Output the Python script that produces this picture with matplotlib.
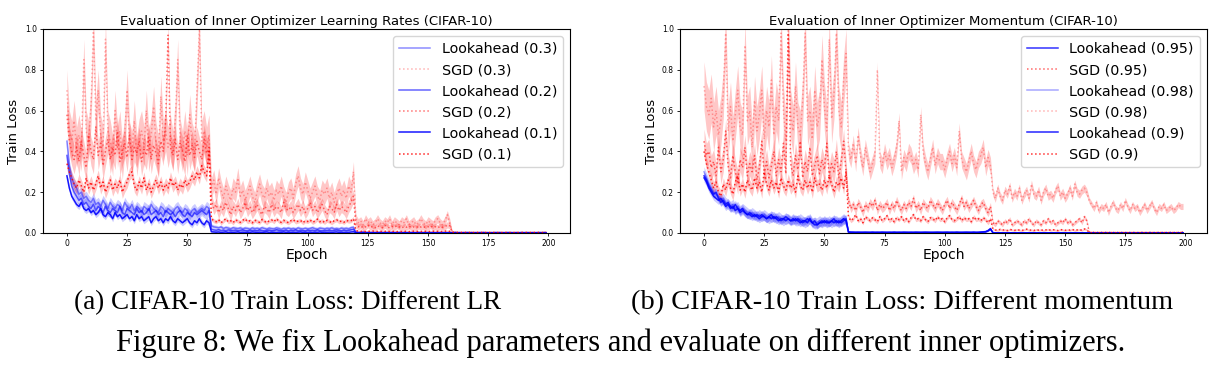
import matplotlib
matplotlib.use("Agg")
import matplotlib.pyplot as plt
import numpy as np

# ---------------------------------------------------------------
# values (one value per epoch, 0..199)
# ---------------------------------------------------------------

# (a) inner optimizer learning rates
lr_la_03 = [
    0.45, 0.33, 0.27, 0.24, 0.22, 0.19, 0.20, 0.17, 0.18, 0.16,
    0.15, 0.17, 0.14, 0.15, 0.13, 0.16, 0.14, 0.12, 0.15, 0.13,
    0.12, 0.14, 0.13, 0.11, 0.15, 0.13, 0.12, 0.14, 0.11, 0.13,
    0.12, 0.10, 0.13, 0.12, 0.11, 0.14, 0.12, 0.11, 0.10, 0.13,
    0.12, 0.10, 0.12, 0.11, 0.10, 0.12, 0.13, 0.11, 0.10, 0.12,
    0.11, 0.09, 0.11, 0.12, 0.10, 0.11, 0.12, 0.11, 0.13, 0.12,
    0.035, 0.030, 0.028, 0.025, 0.030, 0.022, 0.027, 0.024, 0.020, 0.026,
    0.023, 0.021, 0.025, 0.020, 0.024, 0.022, 0.019, 0.025, 0.021, 0.023,
    0.020, 0.026, 0.022, 0.019, 0.024, 0.021, 0.020, 0.025, 0.022, 0.018,
    0.023, 0.021, 0.024, 0.020, 0.022, 0.019, 0.025, 0.021, 0.020, 0.023,
    0.020, 0.022, 0.026, 0.021, 0.019, 0.024, 0.022, 0.020, 0.023, 0.021,
    0.025, 0.020, 0.022, 0.019, 0.024, 0.021, 0.023, 0.020, 0.026, 0.028,
    0.004, 0.003, 0.003, 0.004, 0.003, 0.002, 0.003, 0.003, 0.002, 0.003,
    0.003, 0.002, 0.003, 0.002, 0.003, 0.003, 0.002, 0.002, 0.003, 0.002,
    0.003, 0.002, 0.002, 0.003, 0.002, 0.002, 0.003, 0.002, 0.002, 0.002,
    0.003, 0.002, 0.002, 0.002, 0.003, 0.002, 0.002, 0.002, 0.002, 0.003,
    0.002, 0.002, 0.003, 0.002, 0.002, 0.002, 0.002, 0.003, 0.002, 0.002,
    0.002, 0.002, 0.002, 0.003, 0.002, 0.002, 0.002, 0.002, 0.002, 0.003,
    0.002, 0.002, 0.002, 0.002, 0.003, 0.002, 0.002, 0.002, 0.002, 0.002,
    0.002, 0.003, 0.002, 0.002, 0.002, 0.002, 0.002, 0.002, 0.003, 0.002,
]
lr_sgd_03 = [
    0.70, 0.50, 0.45, 0.55, 0.42, 0.48, 0.40, 0.85, 0.50, 0.45,
    0.62, 1.00, 0.55, 0.70, 0.48, 0.42, 0.95, 0.50, 0.45, 0.38,
    0.60, 0.42, 0.50, 0.36, 0.48, 0.70, 0.44, 0.40, 0.55, 0.38,
    0.46, 0.50, 0.42, 0.60, 0.40, 0.48, 0.62, 0.44, 0.38, 0.67,
    0.45, 0.50, 0.42, 0.48, 0.40, 0.55, 0.85, 0.46, 0.40, 0.50,
    0.38, 0.58, 0.44, 0.40, 0.70, 1.00, 0.45, 0.50, 0.42, 0.48,
    0.22, 0.26, 0.19, 0.27, 0.21, 0.17, 0.23, 0.19, 0.16, 0.22,
    0.20, 0.27, 0.18, 0.21, 0.16, 0.19, 0.23, 0.18, 0.15, 0.20,
    0.24, 0.19, 0.17, 0.22, 0.18, 0.20, 0.16, 0.21, 0.19, 0.23,
    0.18, 0.15, 0.20, 0.22, 0.17, 0.24, 0.28, 0.22, 0.19, 0.25,
    0.21, 0.17, 0.20, 0.23, 0.18, 0.16, 0.21, 0.19, 0.22, 0.17,
    0.20, 0.15, 0.19, 0.22, 0.18, 0.21, 0.17, 0.23, 0.20, 0.30,
    0.07, 0.05, 0.06, 0.04, 0.07, 0.05, 0.06, 0.04, 0.05, 0.07,
    0.05, 0.04, 0.06, 0.05, 0.07, 0.04, 0.06, 0.05, 0.04, 0.06,
    0.05, 0.07, 0.04, 0.05, 0.06, 0.04, 0.05, 0.07, 0.05, 0.04,
    0.06, 0.05, 0.04, 0.06, 0.07, 0.05, 0.04, 0.06, 0.09, 0.05,
    0.008, 0.006, 0.005, 0.004, 0.005, 0.004, 0.003, 0.004, 0.005, 0.003,
    0.004, 0.003, 0.004, 0.005, 0.003, 0.004, 0.003, 0.004, 0.003, 0.004,
    0.005, 0.003, 0.004, 0.003, 0.004, 0.003, 0.004, 0.005, 0.003, 0.004,
    0.003, 0.004, 0.003, 0.004, 0.005, 0.003, 0.004, 0.003, 0.004, 0.008,
]
lr_la_02 = [
    0.38, 0.29, 0.23, 0.20, 0.18, 0.16, 0.17, 0.14, 0.15, 0.13,
    0.12, 0.14, 0.11, 0.13, 0.12, 0.10, 0.13, 0.11, 0.10, 0.12,
    0.11, 0.10, 0.13, 0.10, 0.09, 0.12, 0.11, 0.10, 0.09, 0.12,
    0.10, 0.11, 0.09, 0.10, 0.12, 0.09, 0.10, 0.11, 0.09, 0.10,
    0.08, 0.11, 0.10, 0.09, 0.10, 0.08, 0.10, 0.11, 0.09, 0.08,
    0.10, 0.09, 0.08, 0.10, 0.09, 0.10, 0.11, 0.10, 0.09, 0.11,
    0.018, 0.015, 0.013, 0.016, 0.012, 0.014, 0.011, 0.015, 0.013, 0.012,
    0.014, 0.011, 0.013, 0.015, 0.012, 0.010, 0.014, 0.012, 0.013, 0.011,
    0.015, 0.012, 0.010, 0.013, 0.014, 0.011, 0.012, 0.016, 0.013, 0.011,
    0.012, 0.014, 0.010, 0.013, 0.012, 0.015, 0.011, 0.013, 0.012, 0.010,
    0.014, 0.012, 0.013, 0.011, 0.015, 0.012, 0.010, 0.013, 0.012, 0.014,
    0.011, 0.013, 0.015, 0.012, 0.011, 0.014, 0.012, 0.013, 0.016, 0.018,
    0.003, 0.002, 0.002, 0.003, 0.002, 0.002, 0.001, 0.002, 0.002, 0.001,
    0.002, 0.002, 0.001, 0.002, 0.001, 0.002, 0.002, 0.001, 0.002, 0.001,
    0.001, 0.002, 0.001, 0.001, 0.002, 0.001, 0.002, 0.001, 0.001, 0.002,
    0.001, 0.001, 0.002, 0.001, 0.001, 0.001, 0.002, 0.001, 0.001, 0.001,
    0.001, 0.002, 0.001, 0.001, 0.001, 0.001, 0.002, 0.001, 0.001, 0.001,
    0.001, 0.001, 0.002, 0.001, 0.001, 0.001, 0.001, 0.001, 0.002, 0.001,
    0.001, 0.001, 0.001, 0.002, 0.001, 0.001, 0.001, 0.001, 0.001, 0.002,
    0.001, 0.001, 0.001, 0.001, 0.001, 0.001, 0.002, 0.001, 0.001, 0.001,
]
lr_sgd_02 = [
    0.58, 0.45, 0.40, 0.36, 0.42, 0.35, 0.45, 0.38, 0.32, 0.48,
    0.40, 0.36, 0.52, 0.38, 0.44, 0.33, 0.40, 0.46, 0.36, 0.42,
    0.38, 0.50, 0.35, 0.40, 0.44, 0.37, 0.48, 0.36, 0.42, 0.39,
    0.45, 0.35, 0.41, 0.38, 0.47, 0.36, 0.43, 0.39, 0.34, 0.45,
    0.40, 0.55, 0.97, 0.42, 0.38, 0.46, 0.36, 0.44, 0.40, 0.35,
    0.48, 0.38, 0.43, 0.37, 0.45, 0.40, 0.36, 0.46, 0.39, 0.42,
    0.16, 0.12, 0.14, 0.10, 0.13, 0.11, 0.15, 0.12, 0.09, 0.13,
    0.11, 0.14, 0.10, 0.12, 0.15, 0.11, 0.13, 0.10, 0.12, 0.14,
    0.11, 0.09, 0.13, 0.12, 0.10, 0.14, 0.11, 0.13, 0.12, 0.10,
    0.15, 0.12, 0.11, 0.13, 0.10, 0.12, 0.14, 0.11, 0.13, 0.10,
    0.12, 0.15, 0.11, 0.13, 0.10, 0.12, 0.14, 0.11, 0.09, 0.13,
    0.12, 0.10, 0.14, 0.11, 0.13, 0.12, 0.10, 0.13, 0.15, 0.18,
    0.040, 0.030, 0.035, 0.025, 0.030, 0.040, 0.028, 0.032, 0.025, 0.035,
    0.030, 0.026, 0.038, 0.030, 0.025, 0.033, 0.028, 0.036, 0.030, 0.024,
    0.032, 0.028, 0.035, 0.027, 0.030, 0.025, 0.034, 0.029, 0.032, 0.026,
    0.030, 0.036, 0.027, 0.031, 0.025, 0.033, 0.028, 0.030, 0.040, 0.035,
    0.005, 0.004, 0.003, 0.004, 0.003, 0.003, 0.004, 0.003, 0.002, 0.003,
    0.003, 0.004, 0.003, 0.002, 0.003, 0.003, 0.002, 0.003, 0.003, 0.002,
    0.003, 0.002, 0.003, 0.003, 0.002, 0.003, 0.002, 0.003, 0.002, 0.003,
    0.002, 0.003, 0.003, 0.002, 0.003, 0.002, 0.003, 0.002, 0.003, 0.004,
]
lr_la_01 = [
    0.28, 0.22, 0.18, 0.16, 0.14, 0.13, 0.15, 0.12, 0.11, 0.12,
    0.10, 0.11, 0.09, 0.10, 0.12, 0.09, 0.08, 0.10, 0.09, 0.07,
    0.10, 0.08, 0.09, 0.07, 0.08, 0.09, 0.07, 0.08, 0.06, 0.09,
    0.07, 0.08, 0.06, 0.07, 0.08, 0.05, 0.07, 0.08, 0.06, 0.07,
    0.05, 0.07, 0.06, 0.08, 0.06, 0.05, 0.07, 0.06, 0.05, 0.06,
    0.07, 0.05, 0.04, 0.06, 0.05, 0.07, 0.05, 0.04, 0.06, 0.05,
    0.006, 0.005, 0.004, 0.005, 0.003, 0.004, 0.005, 0.003, 0.004, 0.003,
    0.004, 0.005, 0.003, 0.004, 0.003, 0.004, 0.003, 0.005, 0.004, 0.003,
    0.004, 0.003, 0.004, 0.005, 0.003, 0.004, 0.003, 0.003, 0.004, 0.003,
    0.005, 0.003, 0.004, 0.003, 0.004, 0.003, 0.004, 0.005, 0.003, 0.004,
    0.003, 0.004, 0.003, 0.004, 0.003, 0.005, 0.003, 0.004, 0.003, 0.004,
    0.003, 0.004, 0.005, 0.003, 0.004, 0.003, 0.004, 0.003, 0.005, 0.006,
    0.002, 0.001, 0.001, 0.002, 0.001, 0.001, 0.001, 0.001, 0.001, 0.001,
    0.001, 0.001, 0.001, 0.001, 0.001, 0.001, 0.001, 0.001, 0.001, 0.001,
    0.001, 0.001, 0.001, 0.001, 0.001, 0.001, 0.001, 0.001, 0.001, 0.001,
    0.001, 0.001, 0.001, 0.001, 0.001, 0.001, 0.001, 0.001, 0.001, 0.001,
    0.001, 0.001, 0.001, 0.001, 0.001, 0.001, 0.001, 0.001, 0.001, 0.001,
    0.001, 0.001, 0.001, 0.001, 0.001, 0.001, 0.001, 0.001, 0.001, 0.001,
    0.001, 0.001, 0.001, 0.001, 0.001, 0.001, 0.001, 0.001, 0.001, 0.001,
    0.001, 0.001, 0.001, 0.001, 0.001, 0.001, 0.001, 0.001, 0.001, 0.001,
]
lr_sgd_01 = [
    0.34, 0.30, 0.27, 0.24, 0.22, 0.26, 0.23, 0.20, 0.27, 0.22,
    0.25, 0.21, 0.24, 0.28, 0.22, 0.25, 0.20, 0.23, 0.26, 0.21,
    0.24, 0.22, 0.26, 0.20, 0.23, 0.25, 0.29, 0.30, 0.23, 0.21,
    0.25, 0.22, 0.27, 0.21, 0.24, 0.20, 0.23, 0.26, 0.22, 0.25,
    0.21, 0.24, 0.22, 0.27, 0.23, 0.25, 0.21, 0.24, 0.22, 0.26,
    0.23, 0.25, 0.28, 0.26, 0.30, 0.27, 0.33, 0.30, 0.28, 0.40,
    0.070, 0.060, 0.055, 0.065, 0.050, 0.060, 0.070, 0.055, 0.060, 0.050,
    0.065, 0.058, 0.052, 0.062, 0.070, 0.055, 0.060, 0.050, 0.063, 0.057,
    0.052, 0.066, 0.058, 0.050, 0.060, 0.064, 0.055, 0.070, 0.058, 0.052,
    0.062, 0.056, 0.050, 0.060, 0.066, 0.054, 0.058, 0.062, 0.050, 0.060,
    0.056, 0.064, 0.052, 0.058, 0.068, 0.055, 0.060, 0.052, 0.062, 0.057,
    0.050, 0.060, 0.065, 0.055, 0.058, 0.052, 0.062, 0.058, 0.060, 0.070,
    0.012, 0.009, 0.008, 0.010, 0.007, 0.009, 0.008, 0.010, 0.007, 0.008,
    0.009, 0.007, 0.008, 0.010, 0.007, 0.008, 0.009, 0.007, 0.008, 0.007,
    0.009, 0.008, 0.007, 0.008, 0.009, 0.007, 0.008, 0.007, 0.009, 0.008,
    0.007, 0.008, 0.009, 0.007, 0.008, 0.007, 0.008, 0.009, 0.010, 0.008,
    0.003, 0.002, 0.002, 0.003, 0.002, 0.002, 0.002, 0.002, 0.002, 0.002,
    0.002, 0.002, 0.002, 0.002, 0.002, 0.002, 0.002, 0.002, 0.002, 0.002,
    0.002, 0.002, 0.002, 0.002, 0.002, 0.002, 0.002, 0.002, 0.002, 0.002,
    0.002, 0.002, 0.002, 0.002, 0.002, 0.002, 0.002, 0.002, 0.002, 0.003,
]

# (b) inner optimizer momentum
mom_la_095 = [
    0.28, 0.26, 0.23, 0.21, 0.19, 0.20, 0.17, 0.15, 0.16, 0.14,
    0.15, 0.13, 0.12, 0.14, 0.12, 0.11, 0.12, 0.10, 0.09, 0.10,
    0.09, 0.08, 0.09, 0.08, 0.09, 0.08, 0.07, 0.08, 0.09, 0.07,
    0.08, 0.07, 0.06, 0.07, 0.08, 0.07, 0.06, 0.07, 0.06, 0.07,
    0.06, 0.05, 0.06, 0.07, 0.06, 0.05, 0.06, 0.04, 0.05, 0.06,
    0.05, 0.06, 0.05, 0.06, 0.07, 0.05, 0.06, 0.05, 0.06, 0.07,
    0.005, 0.004, 0.004, 0.003, 0.004, 0.003, 0.003, 0.004, 0.003, 0.003,
    0.004, 0.003, 0.003, 0.003, 0.004, 0.003, 0.003, 0.003, 0.003, 0.004,
    0.003, 0.003, 0.003, 0.004, 0.003, 0.003, 0.003, 0.003, 0.004, 0.003,
    0.003, 0.003, 0.004, 0.003, 0.003, 0.003, 0.003, 0.004, 0.003, 0.003,
    0.003, 0.004, 0.003, 0.003, 0.003, 0.004, 0.003, 0.003, 0.003, 0.004,
    0.003, 0.003, 0.004, 0.003, 0.003, 0.004, 0.005, 0.006, 0.010, 0.018,
    0.002, 0.001, 0.001, 0.001, 0.001, 0.001, 0.001, 0.001, 0.001, 0.001,
    0.001, 0.001, 0.001, 0.001, 0.001, 0.001, 0.001, 0.001, 0.001, 0.001,
    0.001, 0.001, 0.001, 0.001, 0.001, 0.001, 0.001, 0.001, 0.001, 0.001,
    0.001, 0.001, 0.001, 0.001, 0.001, 0.001, 0.001, 0.001, 0.001, 0.001,
    0.001, 0.001, 0.001, 0.001, 0.001, 0.001, 0.001, 0.001, 0.001, 0.001,
    0.001, 0.001, 0.001, 0.001, 0.001, 0.001, 0.001, 0.001, 0.001, 0.001,
    0.001, 0.001, 0.001, 0.001, 0.001, 0.001, 0.001, 0.001, 0.001, 0.001,
    0.001, 0.001, 0.001, 0.001, 0.001, 0.001, 0.001, 0.001, 0.001, 0.001,
]
mom_sgd_095 = [
    0.45, 0.38, 0.40, 0.32, 0.35, 0.28, 0.42, 0.30, 0.36, 0.50,
    0.33, 0.27, 0.38, 0.30, 0.25, 0.36, 0.32, 0.42, 0.28, 0.34,
    0.30, 0.38, 0.26, 0.32, 0.45, 0.29, 0.35, 0.27, 0.33, 0.40,
    0.28, 0.36, 0.30, 0.44, 0.29, 0.98, 0.34, 0.28, 0.38, 0.31,
    0.45, 0.27, 0.35, 0.30, 0.42, 0.28, 0.33, 0.38, 0.29, 0.36,
    0.31, 0.44, 0.28, 0.34, 0.30, 0.40, 0.27, 0.35, 0.45, 0.30,
    0.16, 0.12, 0.14, 0.11, 0.15, 0.13, 0.10, 0.14, 0.12, 0.15,
    0.13, 0.16, 0.11, 0.14, 0.12, 0.13, 0.15, 0.11, 0.14, 0.12,
    0.16, 0.13, 0.11, 0.14, 0.12, 0.15, 0.13, 0.17, 0.12, 0.14,
    0.11, 0.15, 0.13, 0.12, 0.16, 0.14, 0.12, 0.15, 0.13, 0.11,
    0.14, 0.16, 0.12, 0.15, 0.13, 0.11, 0.14, 0.17, 0.13, 0.15,
    0.12, 0.14, 0.16, 0.13, 0.11, 0.14, 0.15, 0.12, 0.10, 0.13,
    0.05, 0.04, 0.06, 0.05, 0.04, 0.06, 0.05, 0.07, 0.04, 0.05,
    0.06, 0.05, 0.04, 0.06, 0.05, 0.07, 0.05, 0.04, 0.06, 0.05,
    0.04, 0.06, 0.05, 0.07, 0.05, 0.06, 0.04, 0.05, 0.06, 0.05,
    0.07, 0.05, 0.06, 0.04, 0.05, 0.06, 0.07, 0.05, 0.08, 0.06,
    0.006, 0.005, 0.004, 0.004, 0.003, 0.004, 0.003, 0.004, 0.003, 0.004,
    0.003, 0.004, 0.003, 0.003, 0.004, 0.003, 0.004, 0.003, 0.003, 0.004,
    0.003, 0.003, 0.004, 0.003, 0.003, 0.004, 0.003, 0.003, 0.004, 0.003,
    0.003, 0.004, 0.003, 0.003, 0.004, 0.003, 0.003, 0.003, 0.004, 0.006,
]
mom_la_098 = [
    0.30, 0.27, 0.24, 0.22, 0.20, 0.19, 0.18, 0.16, 0.17, 0.15,
    0.14, 0.13, 0.14, 0.12, 0.13, 0.11, 0.12, 0.11, 0.10, 0.09,
    0.10, 0.09, 0.08, 0.09, 0.08, 0.09, 0.08, 0.07, 0.08, 0.08,
    0.07, 0.08, 0.07, 0.06, 0.07, 0.07, 0.06, 0.07, 0.06, 0.06,
    0.07, 0.06, 0.05, 0.06, 0.07, 0.05, 0.05, 0.05, 0.06, 0.05,
    0.06, 0.05, 0.06, 0.05, 0.06, 0.06, 0.05, 0.06, 0.07, 0.06,
    0.006, 0.005, 0.004, 0.004, 0.003, 0.004, 0.004, 0.003, 0.004, 0.003,
    0.004, 0.003, 0.004, 0.003, 0.004, 0.004, 0.003, 0.004, 0.003, 0.004,
    0.003, 0.004, 0.003, 0.003, 0.004, 0.003, 0.004, 0.003, 0.003, 0.004,
    0.003, 0.004, 0.003, 0.004, 0.003, 0.003, 0.004, 0.003, 0.004, 0.003,
    0.004, 0.003, 0.003, 0.004, 0.003, 0.004, 0.003, 0.003, 0.004, 0.003,
    0.004, 0.003, 0.004, 0.003, 0.004, 0.005, 0.006, 0.008, 0.012, 0.020,
    0.002, 0.001, 0.001, 0.001, 0.001, 0.001, 0.001, 0.001, 0.001, 0.001,
    0.001, 0.001, 0.001, 0.001, 0.001, 0.001, 0.001, 0.001, 0.001, 0.001,
    0.001, 0.001, 0.001, 0.001, 0.001, 0.001, 0.001, 0.001, 0.001, 0.001,
    0.001, 0.001, 0.001, 0.001, 0.001, 0.001, 0.001, 0.001, 0.001, 0.001,
    0.001, 0.001, 0.001, 0.001, 0.001, 0.001, 0.001, 0.001, 0.001, 0.001,
    0.001, 0.001, 0.001, 0.001, 0.001, 0.001, 0.001, 0.001, 0.001, 0.001,
    0.001, 0.001, 0.001, 0.001, 0.001, 0.001, 0.001, 0.001, 0.001, 0.001,
    0.001, 0.001, 0.001, 0.001, 0.001, 0.001, 0.001, 0.001, 0.001, 0.001,
]
mom_sgd_098 = [
    0.72, 0.62, 0.58, 0.66, 0.52, 0.60, 0.48, 0.55, 0.68, 0.98,
    0.50, 0.62, 0.45, 0.58, 0.70, 0.52, 0.48, 0.92, 0.55, 0.60,
    0.42, 0.65, 0.50, 0.58, 0.70, 0.46, 0.60, 0.52, 0.75, 0.48,
    0.62, 0.55, 0.98, 0.60, 0.45, 1.00, 0.58, 0.50, 0.72, 0.52,
    0.48, 0.65, 0.98, 0.55, 0.60, 0.46, 0.70, 0.52, 0.58, 0.85,
    0.62, 0.50, 0.95, 0.56, 0.68, 0.98, 0.60, 0.52, 0.75, 0.88,
    0.40, 0.36, 0.44, 0.34, 0.48, 0.38, 0.32, 0.42, 0.36, 0.30,
    0.34, 0.38, 0.80, 0.36, 0.33, 0.40, 0.35, 0.38, 0.32, 0.36,
    0.42, 0.55, 0.30, 0.37, 0.34, 0.40, 0.38, 0.33, 0.36, 0.31,
    0.58, 0.40, 0.34, 0.30, 0.36, 0.42, 0.33, 0.38, 0.35, 0.35,
    0.31, 0.36, 0.40, 0.34, 0.38, 0.32, 0.50, 0.36, 0.33, 0.30,
    0.35, 0.40, 0.34, 0.31, 0.36, 0.38, 0.42, 0.32, 0.37, 0.33,
    0.20, 0.17, 0.22, 0.18, 0.16, 0.21, 0.19, 0.23, 0.17, 0.20,
    0.18, 0.22, 0.16, 0.19, 0.21, 0.17, 0.24, 0.19, 0.18, 0.21,
    0.16, 0.20, 0.22, 0.18, 0.19, 0.17, 0.21, 0.23, 0.18, 0.20,
    0.17, 0.19, 0.22, 0.18, 0.24, 0.20, 0.19, 0.21, 0.22, 0.20,
    0.16, 0.14, 0.12, 0.15, 0.11, 0.13, 0.12, 0.14, 0.10, 0.13,
    0.15, 0.12, 0.11, 0.14, 0.12, 0.16, 0.13, 0.11, 0.14, 0.12,
    0.13, 0.10, 0.12, 0.14, 0.11, 0.13, 0.15, 0.12, 0.10, 0.13,
    0.12, 0.14, 0.11, 0.12, 0.13, 0.11, 0.12, 0.14, 0.13, 0.13,
]
mom_la_09 = [
    0.27, 0.25, 0.22, 0.20, 0.18, 0.17, 0.16, 0.17, 0.15, 0.13,
    0.14, 0.12, 0.13, 0.11, 0.12, 0.10, 0.11, 0.10, 0.09, 0.09,
    0.08, 0.09, 0.08, 0.07, 0.08, 0.08, 0.07, 0.08, 0.07, 0.08,
    0.07, 0.06, 0.07, 0.07, 0.06, 0.07, 0.06, 0.06, 0.07, 0.06,
    0.05, 0.06, 0.06, 0.05, 0.07, 0.05, 0.04, 0.04, 0.05, 0.05,
    0.06, 0.05, 0.05, 0.06, 0.05, 0.06, 0.05, 0.06, 0.07, 0.06,
    0.004, 0.003, 0.003, 0.003, 0.003, 0.003, 0.003, 0.003, 0.003, 0.003,
    0.003, 0.003, 0.003, 0.003, 0.003, 0.003, 0.003, 0.003, 0.003, 0.003,
    0.003, 0.003, 0.003, 0.003, 0.003, 0.003, 0.003, 0.003, 0.003, 0.003,
    0.003, 0.003, 0.003, 0.003, 0.003, 0.003, 0.003, 0.003, 0.003, 0.003,
    0.003, 0.003, 0.003, 0.003, 0.003, 0.003, 0.003, 0.003, 0.003, 0.003,
    0.003, 0.003, 0.003, 0.003, 0.003, 0.004, 0.005, 0.006, 0.012, 0.022,
    0.001, 0.001, 0.001, 0.001, 0.001, 0.001, 0.001, 0.001, 0.001, 0.001,
    0.001, 0.001, 0.001, 0.001, 0.001, 0.001, 0.001, 0.001, 0.001, 0.001,
    0.001, 0.001, 0.001, 0.001, 0.001, 0.001, 0.001, 0.001, 0.001, 0.001,
    0.001, 0.001, 0.001, 0.001, 0.001, 0.001, 0.001, 0.001, 0.001, 0.001,
    0.001, 0.001, 0.001, 0.001, 0.001, 0.001, 0.001, 0.001, 0.001, 0.001,
    0.001, 0.001, 0.001, 0.001, 0.001, 0.001, 0.001, 0.001, 0.001, 0.001,
    0.001, 0.001, 0.001, 0.001, 0.001, 0.001, 0.001, 0.001, 0.001, 0.001,
    0.001, 0.001, 0.001, 0.001, 0.001, 0.001, 0.001, 0.001, 0.001, 0.001,
]
mom_sgd_09 = [
    0.40, 0.34, 0.30, 0.26, 0.22, 0.25, 0.20, 0.18, 0.24, 0.21,
    0.26, 0.22, 0.19, 0.25, 0.28, 0.21, 0.24, 0.20, 0.26, 0.23,
    0.21, 0.27, 0.22, 0.25, 0.20, 0.30, 0.24, 0.21, 0.26, 0.22,
    0.25, 0.20, 0.27, 0.23, 0.21, 0.26, 0.22, 0.24, 0.20, 0.28,
    0.23, 0.21, 0.26, 0.22, 0.25, 0.20, 0.27, 0.23, 0.24, 0.21,
    0.26, 0.22, 0.28, 0.24, 0.20, 0.25, 0.23, 0.27, 0.22, 0.30,
    0.080, 0.060, 0.070, 0.090, 0.060, 0.070, 0.050, 0.080, 0.070, 0.060,
    0.075, 0.065, 0.055, 0.080, 0.060, 0.070, 0.085, 0.060, 0.070, 0.055,
    0.075, 0.065, 0.080, 0.060, 0.070, 0.055, 0.075, 0.090, 0.065, 0.070,
    0.060, 0.080, 0.065, 0.055, 0.075, 0.070, 0.060, 0.080, 0.065, 0.070,
    0.055, 0.075, 0.085, 0.065, 0.060, 0.070, 0.080, 0.060, 0.075, 0.065,
    0.070, 0.055, 0.080, 0.065, 0.070, 0.060, 0.075, 0.065, 0.050, 0.070,
    0.020, 0.015, 0.012, 0.018, 0.014, 0.016, 0.012, 0.018, 0.015, 0.013,
    0.017, 0.014, 0.012, 0.016, 0.019, 0.013, 0.015, 0.012, 0.017, 0.014,
    0.016, 0.012, 0.015, 0.018, 0.013, 0.016, 0.014, 0.012, 0.017, 0.015,
    0.013, 0.016, 0.014, 0.018, 0.012, 0.015, 0.017, 0.013, 0.020, 0.016,
    0.003, 0.002, 0.002, 0.002, 0.002, 0.002, 0.002, 0.002, 0.002, 0.002,
    0.002, 0.002, 0.002, 0.002, 0.002, 0.002, 0.002, 0.002, 0.002, 0.002,
    0.002, 0.002, 0.002, 0.002, 0.002, 0.002, 0.002, 0.002, 0.002, 0.002,
    0.002, 0.002, 0.002, 0.002, 0.002, 0.002, 0.002, 0.002, 0.002, 0.004,
]

# half width of the shaded band, per lr phase: 0-59, 60-119, 120-159, 160-199
phase_starts = [60, 120, 160]

lr_labels = ["Lookahead (0.3)", "SGD (0.3)", "Lookahead (0.2)", "SGD (0.2)",
             "Lookahead (0.1)", "SGD (0.1)"]
lr_series = [lr_la_03, lr_sgd_03, lr_la_02, lr_sgd_02, lr_la_01, lr_sgd_01]
lr_spread = [[0.025, 0.01, 0.001, 0.001], [0.10, 0.05, 0.02, 0.003],
             [0.025, 0.006, 0.001, 0.001], [0.07, 0.03, 0.015, 0.002],
             [0.015, 0.003, 0.001, 0.001], [0.03, 0.01, 0.004, 0.001]]
lr_alpha = [0.45, 0.3, 0.6, 0.55, 0.9, 0.85]

mom_labels = ["Lookahead (0.95)", "SGD (0.95)", "Lookahead (0.98)", "SGD (0.98)",
              "Lookahead (0.9)", "SGD (0.9)"]
mom_series = [mom_la_095, mom_sgd_095, mom_la_098, mom_sgd_098, mom_la_09, mom_sgd_09]
mom_spread = [[0.02, 0.003, 0.001, 0.001], [0.06, 0.02, 0.01, 0.002],
              [0.025, 0.004, 0.001, 0.001], [0.12, 0.04, 0.02, 0.015],
              [0.02, 0.003, 0.001, 0.001], [0.03, 0.01, 0.005, 0.001]]
mom_alpha = [0.8, 0.6, 0.35, 0.3, 0.85, 0.8]


def draw_panel(ax, title, labels, series, spreads, alphas):
    for lab, y, sp, a in zip(labels, series, spreads, alphas):
        y = np.array(y)
        x = np.arange(len(y))
        s = np.array(sp)[np.searchsorted(phase_starts, x, side="right")]
        if lab.startswith("Lookahead"):
            c, ls, lw = "blue", "-", 1.1
        else:
            c, ls, lw = "red", ":", 1.1
        ax.fill_between(x, y - s, y + s, color=c, alpha=0.22 if c == "red" else 0.2,
                        linewidth=0)
        ax.plot(x, y, color=c, alpha=a, linestyle=ls, linewidth=lw, label=lab)
    ax.set_ylim(0, 1.0)
    ax.set_xticks([0, 25, 50, 75, 100, 125, 150, 175, 200])
    ax.set_yticks([0.0, 0.2, 0.4, 0.6, 0.8, 1.0])
    ax.tick_params(labelsize=5.5, length=2.5, width=0.6, pad=2)
    ax.set_title(title, fontsize=9.5, pad=3)
    ax.set_xlabel("Epoch", fontsize=10, labelpad=0)
    ax.set_ylabel("Train Loss", fontsize=9.5, labelpad=3)
    ax.legend(loc="upper right", fontsize=10.3, handlelength=2.2,
              labelspacing=0.5, borderaxespad=0.5)


fig = plt.figure(figsize=(12.24, 3.75), dpi=100)
ax1 = fig.add_axes([0.0351, 0.3787, 0.4306, 0.544])
ax2 = fig.add_axes([0.5556, 0.3787, 0.4305, 0.544])

draw_panel(ax1, "Evaluation of Inner Optimizer Learning Rates (CIFAR-10)",
           lr_labels, lr_series, lr_spread, lr_alpha)
draw_panel(ax2, "Evaluation of Inner Optimizer Momentum (CIFAR-10)",
           mom_labels, mom_series, mom_spread, mom_alpha)

cap = dict(family="Liberation Serif", ha="center", va="center")
fig.text(0.235, 0.193, "(a) CIFAR-10 Train Loss: Different LR", fontsize=19.5, **cap)
fig.text(0.737, 0.193, "(b) CIFAR-10 Train Loss: Different momentum", fontsize=20.4, **cap)
fig.text(0.507, 0.085,
         "Figure 8: We fix Lookahead parameters and evaluate on different inner optimizers.",
         fontsize=22, **cap)

fig.savefig("out.png", dpi=100)
